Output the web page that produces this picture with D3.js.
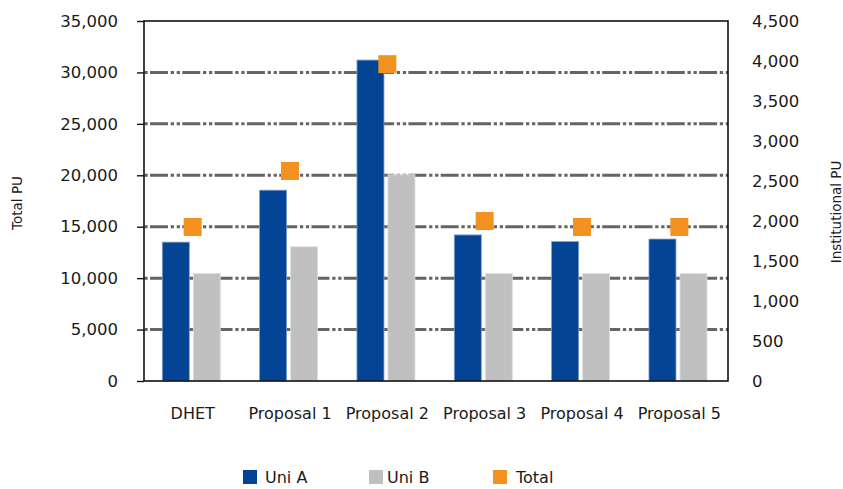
<!DOCTYPE html>
<html>
<head>
<meta charset="utf-8">
<script src="https://cdn.jsdelivr.net/npm/d3@7"></script>
<style>
  body { margin: 0; background: #fff; }
  svg text { font-family: "DejaVu Sans", sans-serif; fill: #1a1a1a; }
</style>
</head>
<body>
<svg id="chart" width="843" height="489"></svg>
<script>
/* DATA */
var categories = ['DHET', 'Proposal 1', 'Proposal 2', 'Proposal 3', 'Proposal 4', 'Proposal 5'];
var uniA = [13500, 18550, 31200, 14200, 13550, 13800];
var uniB = [10450, 13050, 20050, 10450, 10450, 10450];
var total = [1925, 2625, 3960, 2000, 1925, 1925];
var leftTicks = [0, 5000, 10000, 15000, 20000, 25000, 30000, 35000];
var rightTicks = [0, 500, 1000, 1500, 2000, 2500, 3000, 3500, 4000, 4500];
var seriesNames = ['Uni A', 'Uni B', 'Total'];

var colors = { 'Uni A': '#034494', 'Uni B': '#bfc0bf', 'Total': '#f39220' };

var svg = d3.select('#chart');
var pLeft = 144, pRight = 728, pTop = 21, pBottom = 381;

var x = d3.scaleBand().domain(categories).range([pLeft, pRight]).padding(0);
var xSub = d3.scaleBand().domain(['Uni A', 'Uni B']).range([18.3, 76.3]).paddingInner(0.129);
var yL = d3.scaleLinear().domain([0, 35000]).range([pBottom, pTop]);
var yR = d3.scaleLinear().domain([0, 4500]).range([pBottom, pTop]);

/* GRIDLINES */
svg.append('g').selectAll('line')
  .data(leftTicks.filter(function(d){ return d > 0 && d < 35000; }))
  .join('line')
  .attr('x1', pLeft).attr('x2', pRight)
  .attr('y1', function(d){ return yL(d); })
  .attr('y2', function(d){ return yL(d); })
  .attr('stroke', '#666464')
  .attr('stroke-width', 3)
  .attr('stroke-dasharray', '18,2.7,3.3,2.7,3.3,2.3')
  .attr('stroke-dashoffset', 26.3);

/* BARS */
var rows = categories.map(function(c, i){ return { cat: c, 'Uni A': uniA[i], 'Uni B': uniB[i], total: total[i] }; });

var groups = svg.append('g').selectAll('g')
  .data(rows)
  .join('g')
  .attr('transform', function(d){ return 'translate(' + x(d.cat) + ',0)'; });

groups.selectAll('rect')
  .data(function(d){ return ['Uni A', 'Uni B'].map(function(k){ return { key: k, value: d[k] }; }); })
  .join('rect')
  .attr('x', function(d){ return xSub(d.key); })
  .attr('width', xSub.bandwidth())
  .attr('y', function(d){ return yL(d.value); })
  .attr('height', function(d){ return pBottom - yL(d.value); })
  .attr('fill', function(d){ return colors[d.key]; })
  .attr('stroke', function(d){ return d.key == 'Uni A' ? '#7f9cc9' : '#dedede'; })
  .attr('stroke-width', 0.8);

/* TOTAL MARKERS */
svg.append('g').selectAll('rect')
  .data(rows)
  .join('rect')
  .attr('x', function(d){ return x(d.cat) + x.bandwidth()/2 - 9; })
  .attr('y', function(d){ return yR(d.total) - 9; })
  .attr('width', 18).attr('height', 18)
  .attr('fill', colors['Total']);

/* FRAME */
svg.append('rect')
  .attr('x', pLeft).attr('y', pTop)
  .attr('width', pRight - pLeft).attr('height', pBottom - pTop)
  .attr('fill', 'none').attr('stroke', '#111').attr('stroke-width', 1.6);

/* AXES */
var fmt = d3.format(',');
var axL = svg.append('g').attr('transform', 'translate(' + pLeft + ',0)')
  .call(d3.axisLeft(yL).tickValues(leftTicks).tickFormat(fmt).tickSizeOuter(0).tickSizeInner(7).tickPadding(19));
axL.select('.domain').remove();
axL.selectAll('line').attr('stroke', '#111').attr('stroke-width', 1.4);
axL.selectAll('text').style('font-size', '16.5px').attr('fill', '#1a1a1a');

var axR = svg.append('g').attr('transform', 'translate(' + pRight + ',0)')
  .call(d3.axisRight(yR).tickValues(rightTicks).tickFormat(fmt).tickSize(0).tickPadding(24));
axR.select('.domain').remove();
axR.selectAll('text').style('font-size', '16.5px').attr('fill', '#1a1a1a');

var axB = svg.append('g').attr('transform', 'translate(0,' + pBottom + ')')
  .call(d3.axisBottom(x).tickSize(0).tickPadding(27));
axB.select('.domain').remove();
axB.selectAll('text').style('font-size', '16px').attr('fill', '#1a1a1a');

/* AXIS TITLES */
svg.append('text')
  .attr('transform', 'translate(22,' + ((pTop + pBottom)/2 + 2) + ') rotate(-90)')
  .attr('text-anchor', 'middle')
  .style('font-size', '13.5px')
  .text('Total PU');
svg.append('text')
  .attr('transform', 'translate(841,' + ((pTop + pBottom)/2 + 11) + ') rotate(-90)')
  .attr('text-anchor', 'middle')
  .style('font-size', '13.5px')
  .text('Institutional PU');

/* LEGEND */
var legendX = [243, 369, 493];
var legendTextX = [265, 387, 516];
var leg = svg.append('g').selectAll('g')
  .data(seriesNames)
  .join('g');
leg.append('rect')
  .attr('x', function(d, i){ return legendX[i]; })
  .attr('y', 470).attr('width', 14).attr('height', 14)
  .attr('fill', function(d){ return colors[d]; });
leg.append('text')
  .attr('x', function(d, i){ return legendTextX[i]; })
  .attr('y', 483)
  .style('font-size', '16px')
  .text(function(d){ return d; });
</script>
</body>
</html>
